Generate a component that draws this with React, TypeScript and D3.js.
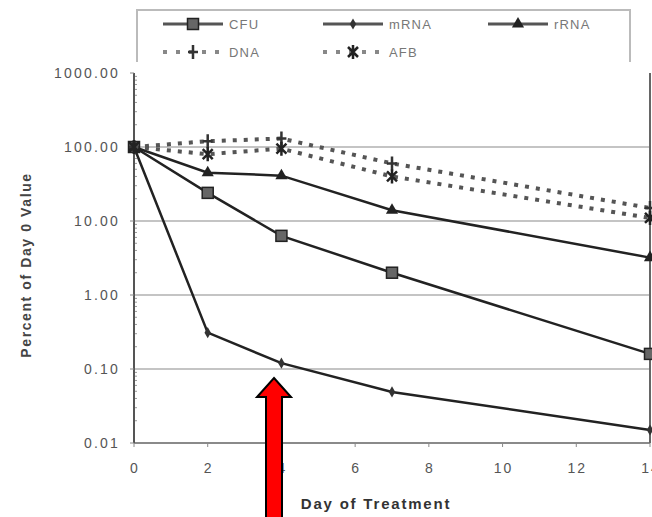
import React, { useEffect, useRef } from "react";
import * as d3 from "d3";

const days = [0, 2, 4, 7, 14];
const cfu = [100, 24, 6.3, 2.0, 0.16];
const mrna = [100, 0.31, 0.12, 0.049, 0.015];
const rrna = [100, 45, 41, 14, 3.2];
const dna = [100, 120, 130, 60, 15];
const afb = [100, 80, 95, 40, 11];
const yTicks = [1000, 100, 10, 1, 0.1, 0.01];
const xTicks = [0, 2, 4, 6, 8, 10, 12, 14];

const W = 652;
const H = 517;
const FONT = "Arial, Liberation Sans, sans-serif";

const App = () => {
  const ref = useRef(null);

  useEffect(() => {
    drawChart();
  }, []);

  const drawChart = () => {
    const svg = d3.select(ref.current);
    svg.selectAll("*").remove();

    const x = d3.scaleLinear().domain([0, 14]).range([134, 650]);
    const y = d3.scaleLog().domain([0.01, 1000]).range([443, 73]);
    const fmt = d3.format(".2f");

    svg.append("rect").attr("width", W).attr("height", H).attr("fill", "#fff");

    // gridlines
    svg
      .selectAll(".grid")
      .data([100, 10, 1, 0.1])
      .enter()
      .append("line")
      .attr("x1", x(0))
      .attr("x2", x(14))
      .attr("y1", (d) => y(d))
      .attr("y2", (d) => y(d))
      .attr("stroke", "#c4c4c4")
      .attr("stroke-width", 2);

    // minor ticks on the log axis
    const minors = [];
    for (let e = -2; e < 3; e++) {
      for (let m = 2; m < 10; m++) minors.push(m * Math.pow(10, e));
    }
    svg
      .selectAll(".minor")
      .data(minors)
      .enter()
      .append("line")
      .attr("x1", x(0))
      .attr("x2", x(0) + 3)
      .attr("y1", (d) => y(d))
      .attr("y2", (d) => y(d))
      .attr("stroke", "#999")
      .attr("stroke-width", 1);

    // axes frame
    svg.append("line")
      .attr("x1", x(0)).attr("x2", x(14))
      .attr("y1", y(0.01)).attr("y2", y(0.01))
      .attr("stroke", "#8a8a8a").attr("stroke-width", 2);
    svg.append("line")
      .attr("x1", x(0)).attr("x2", x(0))
      .attr("y1", y(1000)).attr("y2", y(0.01))
      .attr("stroke", "#555").attr("stroke-width", 2);
    svg.append("line")
      .attr("x1", x(14)).attr("x2", x(14))
      .attr("y1", y(1000)).attr("y2", y(0.01))
      .attr("stroke", "#666").attr("stroke-width", 2);

    // y tick marks + labels
    yTicks.forEach((t) => {
      svg.append("line")
        .attr("x1", x(0) - 4).attr("x2", x(0))
        .attr("y1", y(t)).attr("y2", y(t))
        .attr("stroke", "#888");
      svg.append("text")
        .attr("x", 120)
        .attr("y", y(t) + 5)
        .attr("text-anchor", "end")
        .attr("font-family", FONT)
        .attr("font-size", 14)
        .attr("letter-spacing", 2.2)
        .attr("fill", "#555")
        .text(fmt(t));
    });

    // x tick labels
    xTicks.forEach((t) => {
      svg.append("line")
        .attr("x1", x(t)).attr("x2", x(t))
        .attr("y1", y(0.01)).attr("y2", y(0.01) + 4)
        .attr("stroke", "#888");
      svg.append("text")
        .attr("x", x(t) + 1)
        .attr("y", 473)
        .attr("text-anchor", "middle")
        .attr("font-family", FONT)
        .attr("font-size", 14)
        .attr("letter-spacing", 2)
        .attr("fill", "#555")
        .text(t);
    });

    svg.append("text")
      .attr("transform", "translate(31,265) rotate(-90)")
      .attr("text-anchor", "middle")
      .attr("font-family", FONT)
      .attr("font-size", 14)
      .attr("font-weight", "bold")
      .attr("letter-spacing", 1.6)
      .attr("fill", "#444")
      .text("Percent of Day 0 Value");

    svg.append("text")
      .attr("x", 376)
      .attr("y", 509)
      .attr("text-anchor", "middle")
      .attr("font-family", FONT)
      .attr("font-size", 15)
      .attr("font-weight", "bold")
      .attr("letter-spacing", 1.8)
      .attr("fill", "#333")
      .text("Day of Treatment");

    const line = d3
      .line()
      .x((d) => x(d[0]))
      .y((d) => y(d[1]));

    const series = [
      { name: "CFU", vals: cfu, dash: null, marker: "square" },
      { name: "mRNA", vals: mrna, dash: null, marker: "diamond" },
      { name: "rRNA", vals: rrna, dash: null, marker: "triangle" },
      { name: "DNA", vals: dna, dash: "4,7", marker: "plus" },
      { name: "AFB", vals: afb, dash: "4,7", marker: "star" },
    ];

    const drawMarker = (g, kind, cx, cy) => {
      if (kind === "square") {
        g.append("rect")
          .attr("x", cx - 5.5).attr("y", cy - 5.5)
          .attr("width", 11).attr("height", 11)
          .attr("fill", "#666").attr("stroke", "#222").attr("stroke-width", 1.5);
      } else if (kind === "diamond") {
        g.append("path")
          .attr("d", d3.symbol(d3.symbolDiamond, 36)())
          .attr("transform", `translate(${cx},${cy})`)
          .attr("fill", "#333");
      } else if (kind === "triangle") {
        g.append("path")
          .attr("d", d3.symbol(d3.symbolTriangle, 64)())
          .attr("transform", `translate(${cx},${cy})`)
          .attr("fill", "#222");
      } else if (kind === "plus") {
        g.append("path")
          .attr("d", `M${cx - 5},${cy}H${cx + 5}M${cx},${cy - 7}V${cy + 7}`)
          .attr("stroke", "#333").attr("stroke-width", 2.5);
      } else {
        g.append("path")
          .attr("d", `M${cx - 5},${cy - 5}L${cx + 5},${cy + 5}M${cx + 5},${cy - 5}L${cx - 5},${cy + 5}M${cx},${cy - 7}V${cy + 7}`)
          .attr("stroke", "#222").attr("stroke-width", 2.5);
      }
    };

    series.forEach((s) => {
      const pts = days.map((d, i) => [d, s.vals[i]]);
      svg.append("path")
        .attr("d", line(pts))
        .attr("fill", "none")
        .attr("stroke", s.dash ? "#555" : "#222")
        .attr("stroke-width", s.dash ? 4 : 2.5)
        .attr("stroke-dasharray", s.dash);
      const g = svg.append("g");
      pts.forEach((p) => drawMarker(g, s.marker, x(p[0]), y(p[1])));
    });

    // legend
    svg.append("path")
      .attr("d", "M137,62V10H630V62")
      .attr("fill", "none")
      .attr("stroke", "#bbb")
      .attr("stroke-width", 2);

    const legendPos = [
      { x: 163, y: 24 },
      { x: 323, y: 24 },
      { x: 488, y: 24 },
      { x: 163, y: 52 },
      { x: 323, y: 52 },
    ];
    series.forEach((s, i) => {
      const p = legendPos[i];
      const g = svg.append("g");
      g.append("line")
        .attr("x1", p.x).attr("x2", p.x + 60)
        .attr("y1", p.y).attr("y2", p.y)
        .attr("stroke", s.dash ? "#888" : "#555")
        .attr("stroke-width", s.dash ? 4 : 3)
        .attr("stroke-dasharray", s.dash ? "4,9" : null);
      drawMarker(g, s.marker, p.x + 30, p.y);
      g.append("text")
        .attr("x", p.x + 66)
        .attr("y", p.y + 5)
        .attr("font-family", FONT)
        .attr("font-size", 13)
        .attr("letter-spacing", 1.2)
        .attr("fill", "#777")
        .text(s.name);
    });

    // red arrow
    const ax = 274;
    svg.append("path")
      .attr("d", `M${ax},378L${ax + 17},397H${ax + 8}V520H${ax - 8}V397H${ax - 17}Z`)
      .attr("fill", "#ff0000")
      .attr("stroke", "#000")
      .attr("stroke-width", 2);
  };

  return (
    <svg
      ref={ref}
      width={W}
      height={H}
      style={{ position: "absolute", left: 0, top: 0, display: "block" }}
    />
  );
};

export default App;
